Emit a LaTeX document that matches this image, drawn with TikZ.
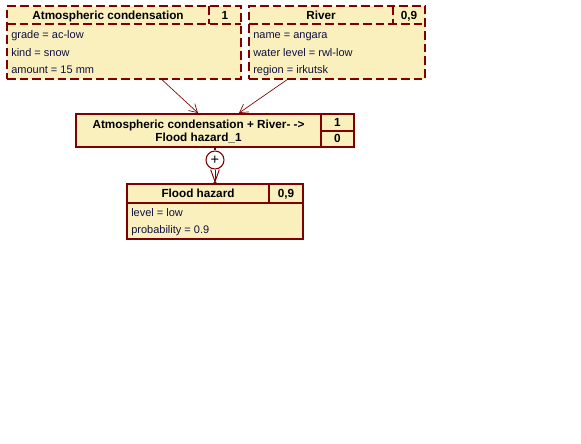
\documentclass[tikz,border=0pt]{standalone}
\usepackage{fontspec}
\setmainfont{Liberation Sans}
\usetikzlibrary{arrows.meta,calc}
\definecolor{frameRed}{RGB}{128,0,0}
\definecolor{cardFill}{RGB}{250,240,190}
\definecolor{slotText}{RGB}{16,16,64}

\tikzset{
  fact/.style={draw=frameRed, fill=cardFill, line width=1.1pt, dash pattern=on 6.5pt off 3pt, inner sep=0pt},
  factline/.style={draw=frameRed, line width=1.1pt, dash pattern=on 6.5pt off 3pt},
  rulebox/.style={draw=frameRed, fill=cardFill, line width=1.5pt, inner sep=0pt},
  ruleline/.style={draw=frameRed, line width=1.5pt},
  head/.style={font=\bfseries\fontsize{8.8}{10}\selectfont, text=black, align=center, inner sep=0pt, anchor=base},
  slot/.style={font=\fontsize{8.25}{10}\selectfont, text=slotText, anchor=base west, inner sep=0pt},
  link/.style={draw=frameRed, line width=0.5pt, -{Straight Barb[length=6pt,width=7pt]}},
}

\begin{document}
\begin{tikzpicture}[x=0.75pt,y=-0.75pt]
\useasboundingbox[fill=white] (0,0) rectangle (581,443);

% fact: atmospheric condensation
\node[fact, minimum width=175.5pt, minimum height=54.75pt] (atm) at (124,42.5) {};
\draw[factline] (7,24) -- (241,24);
\draw[factline] (209,6) -- (209,24);
\node[head] (atm-name) at (108,19.5) {Atmospheric condensation};
\node[head] (atm-cf) at (225,19.5) {1};
\node[slot] (atm-s1) at (11,38.7) {grade = ac-low};
\node[slot] (atm-s2) at (11,56) {kind = snow};
\node[slot] (atm-s3) at (11,73.3) {amount = 15 mm};

% fact: river
\node[fact, minimum width=132pt, minimum height=54.75pt] (river) at (337,42.5) {};
\draw[factline] (249,24) -- (425,24);
\draw[factline] (393,6) -- (393,24);
\node[head] (river-name) at (321,19.5) {River};
\node[head] (river-cf) at (409,19.5) {0,9};
\node[slot] (river-s1) at (253,38.7) {name = angara};
\node[slot] (river-s2) at (253,56) {water level = rwl-low};
\node[slot] (river-s3) at (253,73.3) {region = irkutsk};

% rule
\node[rulebox, minimum width=208.5pt, minimum height=24.75pt] (rule) at (215,130.5) {};
\draw[ruleline] (321,114) -- (321,147);
\draw[ruleline] (321,131) -- (354,131);
\node[head] (rule-name1) at (198.5,128.3) {Atmospheric condensation + River- ->};
\node[head] (rule-name2) at (198.5,141.7) {Flood hazard\_1};
\node[head] (rule-cf1) at (337.5,126.7) {1};
\node[head] (rule-cf2) at (337.5,142.7) {0};

% operator
\node[circle, draw=frameRed, fill=white, line width=0.8pt, minimum size=13.5pt, inner sep=0pt,
      font=\fontsize{11}{11}\selectfont] (plus) at (215,160) {+};

% result: flood hazard
\node[rulebox, minimum width=132pt, minimum height=41.25pt] (flood) at (215,211.5) {};
\draw[ruleline] (127,203) -- (303,203);
\draw[ruleline] (269,184) -- (269,203);
\node[head] (flood-name) at (198,197.7) {Flood hazard};
\node[head] (flood-cf) at (286,197.7) {0,9};
\node[slot] (flood-s1) at (131,216.7) {level = low};
\node[slot] (flood-s2) at (131,233.3) {probability = 0.9};

% connectors
\draw[link] ($(atm.south)+(38,0)$) -- ($(rule.north)+(-17,0)$);
\draw[link] ($(river.south)+(-50,0)$) -- ($(rule.north)+(24,0)$);
\draw[frameRed, line width=0.8pt] (rule.south) -- (plus.north);
\draw[frameRed, line width=0.7pt, -{Straight Barb[length=9pt,width=6.5pt]}] (plus.south) -- (flood.north);
\fill[frameRed] (flood.north) circle (1.8);
\end{tikzpicture}
\end{document}
